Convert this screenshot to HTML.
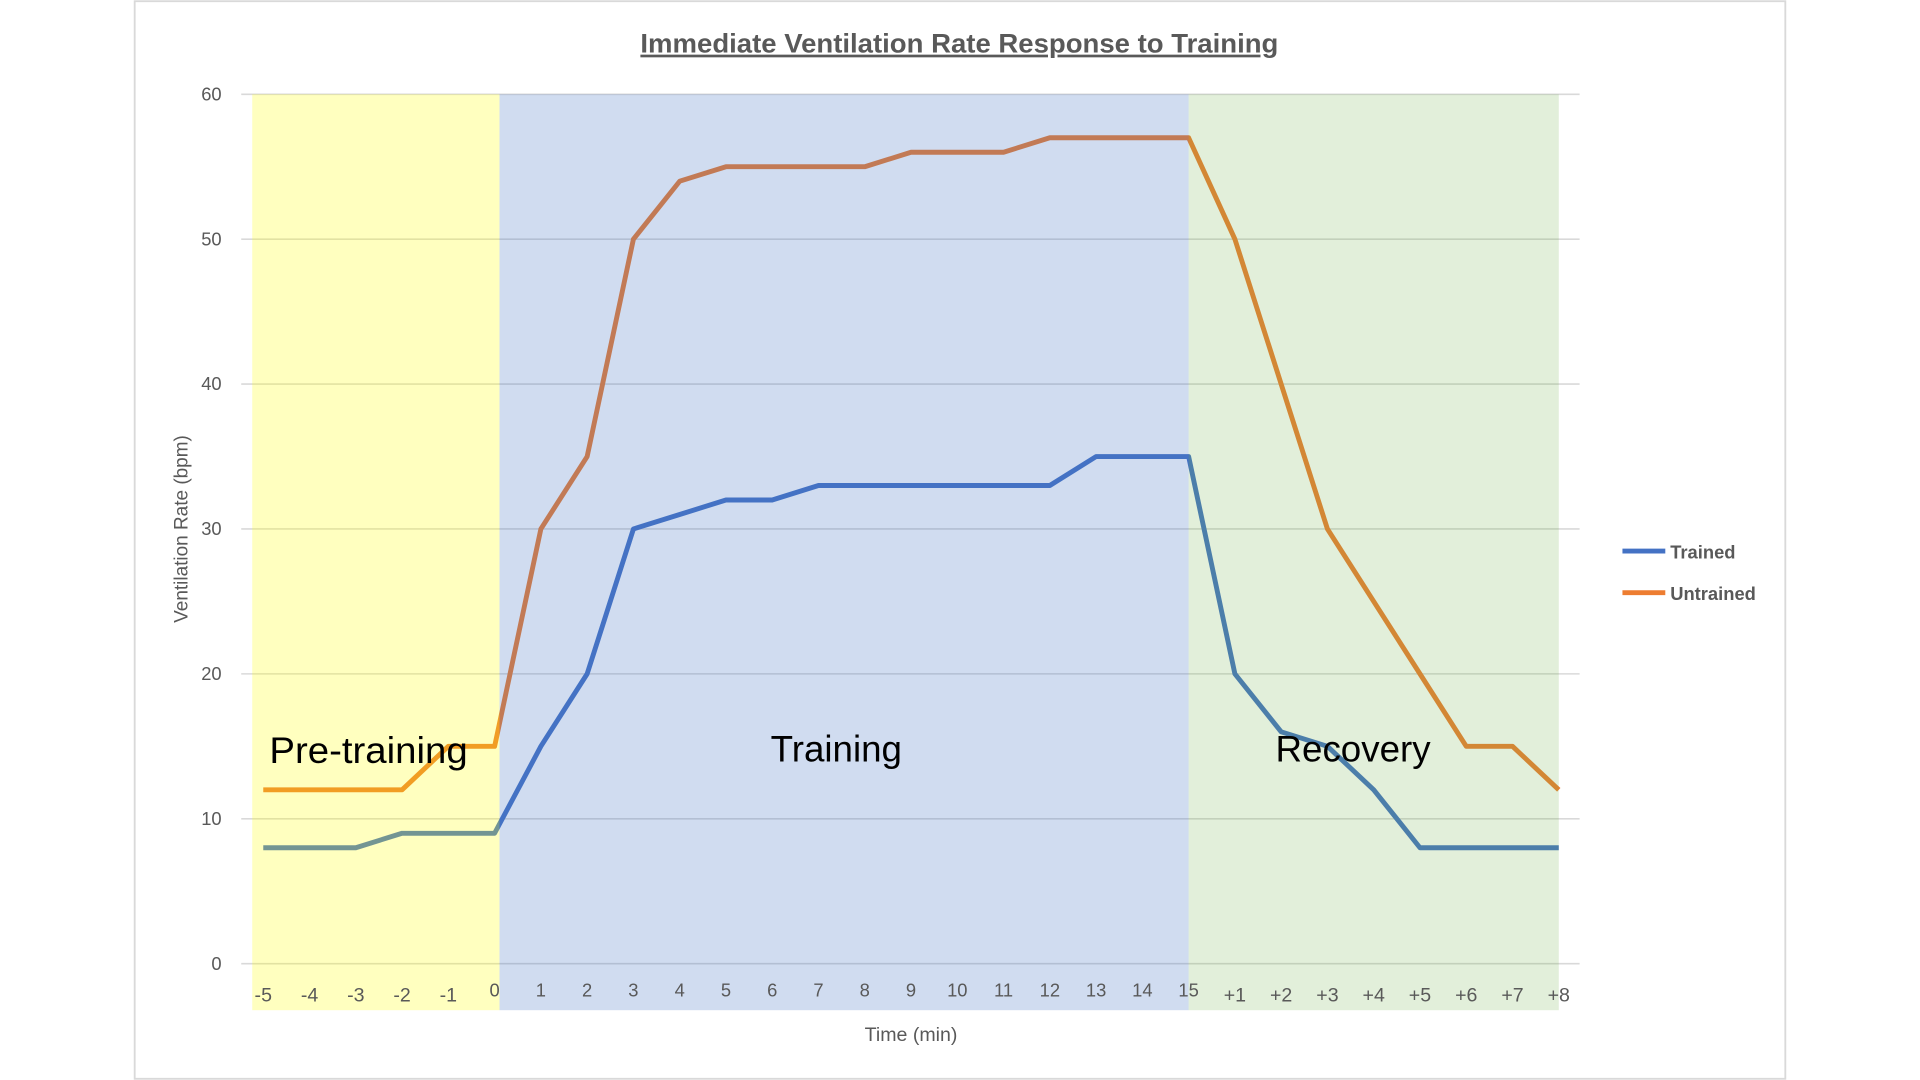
<!DOCTYPE html>
<html><head><meta charset="utf-8"><style>
html,body{margin:0;padding:0;background:#fff;width:1920px;height:1080px;overflow:hidden}
svg{display:block}
text{font-family:"Liberation Sans",sans-serif}
</style></head><body>
<svg id="chart" width="1920" height="1080" viewBox="0 0 1568 882" preserveAspectRatio="none" xmlns="http://www.w3.org/2000/svg">
<rect x="110" y="1" width="1348" height="880" fill="#fff" stroke="#d9d9d9" stroke-width="1.5"/>
<text x="523" y="43" textLength="521" lengthAdjust="spacingAndGlyphs" font-size="22" font-weight="bold" fill="#595959" text-decoration="underline">Immediate Ventilation Rate Response to Training</text>
<g id="grid"></g>
<g id="lines"></g>
<g id="bands"></g>
<g id="labels"></g>
<text transform="translate(153,432) rotate(-90)" text-anchor="middle" font-size="15.5" fill="#595959">Ventilation Rate (bpm)</text>
<text x="744" y="850" text-anchor="middle" font-size="16" fill="#595959">Time (min)</text>
<text x="220" y="623" textLength="162" lengthAdjust="spacingAndGlyphs" font-size="30" fill="#000">Pre-training</text>
<text x="683" y="622" text-anchor="middle" font-size="30" fill="#000">Training</text>
<text x="1105" y="622" text-anchor="middle" font-size="30" fill="#000">Recovery</text>
<g>
<line x1="1325" y1="450" x2="1360" y2="450" stroke="#4472c4" stroke-width="4"/>
<text x="1364" y="456" font-size="15" font-weight="bold" fill="#595959">Trained</text>
<line x1="1325" y1="484" x2="1360" y2="484" stroke="#ed7d31" stroke-width="4"/>
<text x="1364" y="490" font-size="15" font-weight="bold" fill="#595959">Untrained</text>
</g>
</svg>
<script>
const categories = ["-5","-4","-3","-2","-1","0","1","2","3","4","5","6","7","8","9","10","11","12","13","14","15","+1","+2","+3","+4","+5","+6","+7","+8"];
const trained = [8,8,8,9,9,9,15,20,30,31,32,32,33,33,33,33,33,33,35,35,35,20,16,15,12,8,8,8,8];
const untrained = [12,12,12,12,15,15,30,35,50,54,55,55,55,55,56,56,56,57,57,57,57,50,40,30,25,20,15,15,12];
const yTicks = [0,10,20,30,40,50,60];
const NS="http://www.w3.org/2000/svg";
const x = i => 215 + i*(1273-215)/(categories.length-1);
const y = v => 787 - v*(787-77)/60;
function mk(tag, attrs, parent){const e=document.createElementNS(NS,tag);for(const k in attrs)e.setAttribute(k,attrs[k]);document.getElementById(parent).appendChild(e);return e;}
yTicks.forEach(t=>{
  const g=mk('line',{x1:197,x2:1290,y1:y(t),y2:y(t),stroke:'#d9d9d9','stroke-width':1.3},'grid');
  
  
  const l=mk('text',{x:181,y:y(t)+5,'text-anchor':'end','font-size':15,fill:'#595959'},'labels');
  l.textContent=t;
  
  
});
function series(vals,color,name){
  const p=mk('polyline',{points:vals.map((v,i)=>x(i)+','+y(v)).join(' '),fill:'none',stroke:color,'stroke-width':4,'stroke-linejoin':'round'},'lines');
  
  
}
series(untrained,'#ed7d31','untrained-line');
series(trained,'#4472c4','trained-line');
const i0=categories.indexOf("0"), i15=categories.indexOf("15");
const bands=[[206,(x(i0)+4),'#ffff00',0.25,'pre-training-band'],[x(i0)+4,x(i15),'#4472c4',0.25,'training-band'],[x(i15),x(categories.length-1),'#70ad47',0.2,'recovery-band']];
bands.forEach(b=>{
  const r=mk('rect',{x:b[0],y:77,width:b[1]-b[0],height:748,fill:b[2],'fill-opacity':b[3]},'bands');
  
  
});
categories.forEach((c,i)=>{
  const mid = i>=i0 && i<=i15;
  const t=mk('text',{x:x(i),y:mid?814:818,'text-anchor':'middle','font-size':mid?15:16,fill:'#595959'},'labels');
  t.textContent=c;
  
  
});
</script>
</body></html>
